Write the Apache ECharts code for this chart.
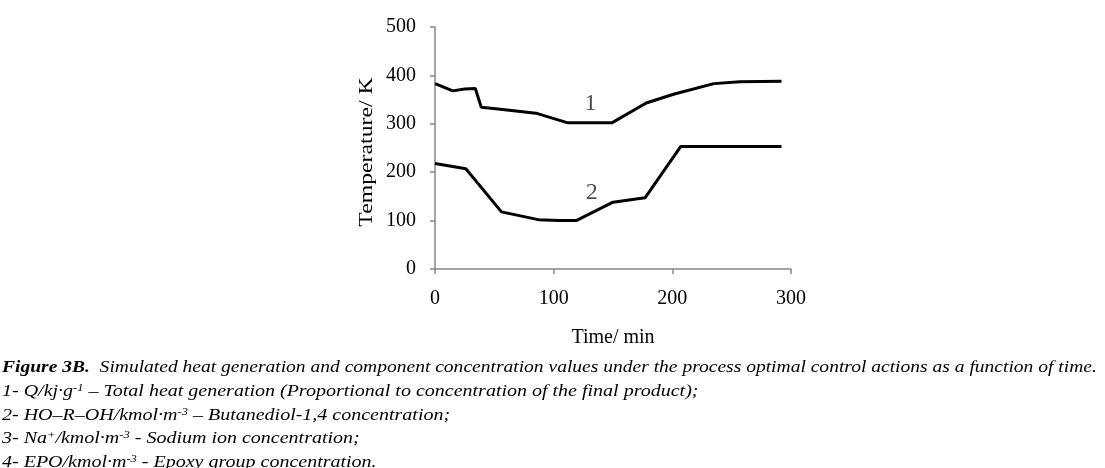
<!DOCTYPE html>
<html><head><meta charset="utf-8">
<script src="https://cdn.jsdelivr.net/npm/echarts@6/dist/echarts.min.js"></script>
<style>html,body{margin:0;padding:0;background:#fff}#c{width:1105px;height:468px}</style>
</head><body><div id="c"></div>
<script>
// Series 1 (curve "1")
const time1 = [0, 15, 25, 34, 39, 55, 85, 112, 149, 178, 201, 235, 257, 292];
const temp1 = [383, 368, 372, 373, 334, 330, 322, 302, 302, 343, 361, 383, 387, 388];
// Series 2 (curve "2")
const time2 = [0, 26, 56, 87, 104, 119, 150, 177, 207, 292];
const temp2 = [218, 207, 118, 102, 100, 100, 138, 147, 253, 253];
const curveLabels = [{name: '1', t: 131, v: 341}, {name: '2', t: 132, v: 157}];
const xTicks = [0, 100, 200, 300];
const yTicks = [0, 100, 200, 300, 400, 500];
const xTitle = 'Time/ min';
const yTitle = 'Temperature/ K';
const caption = [
  '{b|Figure 3B.}{n|  Simulated heat generation and component concentration values under the process optimal control actions as a function of time.}',
  '{n|1- Q/kj·g}{s|-1}{n| – Total heat generation (Proportional to concentration of the final product);}',
  '{n|2- HO–R–OH/kmol·m}{s|-3}{n| – Butanediol-1,4 concentration;}',
  '{n|3- Na}{s|+}{n|/kmol·m}{s|-3}{n| - Sodium ion concentration;}',
  '{n|4- EPO/kmol·m}{s|-3}{n| - Epoxy group concentration.}'
];

const serif = 'Liberation Serif';
const chart = echarts.init(document.getElementById('c'));
const pair = (xs, ys) => xs.map((x, i) => [x, ys[i]]);
const rich = {
  n: {fontFamily: serif, fontStyle: 'italic', fontSize: 16, fill: '#000'},
  b: {fontFamily: serif, fontStyle: 'italic', fontWeight: 'bold', fontSize: 16, fill: '#000'},
  s: {fontFamily: serif, fontStyle: 'italic', fontSize: 10, fill: '#000', verticalAlign: 'top', padding: [0, 0, 7, 0]}
};
const axisLine = {show: true, lineStyle: {color: '#888', width: 1.5}};
const tickStyle = {show: true, length: 5, lineStyle: {color: '#888', width: 1.5}};
const lineSeries = (xs, ys) => ({type: 'line', data: pair(xs, ys), showSymbol: false, lineStyle: {color: '#000', width: 3}});
chart.setOption({
  animation: false,
  grid: {left: 435, right: 314, top: 27, bottom: 199},
  xAxis: {
    type: 'value', min: xTicks[0], max: xTicks[xTicks.length - 1], interval: 100,
    name: xTitle, nameLocation: 'middle', nameGap: 59,
    nameTextStyle: {fontFamily: serif, fontSize: 20, color: '#000'},
    axisLine: axisLine, axisTick: tickStyle,
    axisLabel: {fontFamily: serif, fontSize: 20, color: '#000', margin: 20},
    splitLine: {show: false}
  },
  yAxis: {
    type: 'value', min: yTicks[0], max: yTicks[yTicks.length - 1], interval: 100,
    axisLine: axisLine, axisTick: tickStyle,
    axisLabel: {fontFamily: serif, fontSize: 20, color: '#000', margin: 19},
    splitLine: {show: false}
  },
  series: [
    lineSeries(time1, temp1),
    lineSeries(time2, temp2),
    {type: 'scatter', data: curveLabels.map(d => ({name: d.name, value: [d.t, d.v]})),
     symbol: 'circle', symbolSize: 1, itemStyle: {color: 'rgba(0,0,0,0)'},
     label: {show: true, position: 'inside', formatter: '{b}', fontFamily: serif, fontSize: 24, color: '#222'}}
  ],
  graphic: [{
    type: 'text', x: 367, y: 152, rotation: Math.PI / 2, scaleX: 1.25,
    style: {text: yTitle, fontFamily: serif, fontSize: 19, fill: '#000', align: 'center', verticalAlign: 'middle'}
  }].concat(caption.map((t, i) => ({
    type: 'text', x: 2, y: 360 + i * 23.5, scaleX: i === 0 ? 1.22 : 1.25,
    style: {text: t, rich: rich, fontFamily: serif, fontSize: 16, fill: '#000', verticalAlign: 'top'}
  })))
});
</script></body></html>
